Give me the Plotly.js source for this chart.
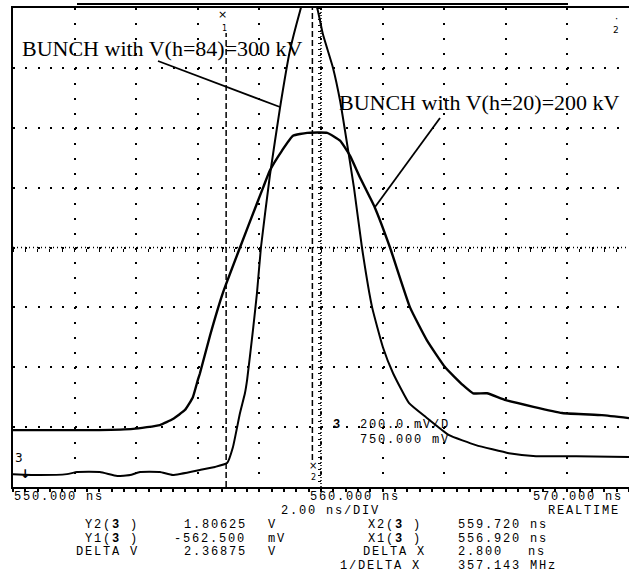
<!DOCTYPE html>
<html><head><meta charset="utf-8">
<script src="https://cdn.plot.ly/plotly-3.0.1.min.js"></script>
<style>
html,body{margin:0;padding:0;background:#fff}
#plot{width:629px;height:574px}
text.annotation-text[style*="Liberation Mono"]{letter-spacing:1.8px}
</style>
</head><body><div id="plot"></div>
<script>
// ---- data (time in ns, signal in V) ----
const timeA = [550.0, 550.88, 551.75, 552.08, 552.82, 553.38, 553.8, 554.12, 554.77, 555.19, 556.07, 556.56, 556.95, 557.14, 557.37, 557.53, 557.6, 557.79, 557.92, 558.05, 558.34, 558.67, 558.99, 559.32, 559.61, 559.9, 560.06, 560.39, 560.62, 560.78, 561.07, 561.33, 561.66, 562.01, 562.34, 562.86, 563.41, 564.16, 565.03, 566.1, 566.98, 568.28, 570.0];
const voltA = [-0.007, -0.01, -0.007, 0.0, 0.0, -0.013, -0.01, 0.0, 0.0, -0.01, 0.007, 0.017, 0.03, 0.083, 0.197, 0.263, 0.307, 0.473, 0.597, 0.75, 0.99, 1.217, 1.407, 1.54, 1.64, 1.54, 1.463, 1.35, 1.24, 1.14, 0.95, 0.75, 0.55, 0.417, 0.33, 0.23, 0.183, 0.123, 0.09, 0.063, 0.053, 0.053, 0.05];
const timeB = [550.0, 551.5, 552.8, 553.9, 554.77, 555.19, 555.58, 555.84, 556.0, 556.07, 556.4, 556.82, 557.37, 557.92, 558.12, 558.34, 558.73, 559.09, 559.55, 560.2, 560.62, 560.94, 561.27, 561.59, 561.75, 562.24, 562.89, 563.44, 564.03, 564.61, 564.94, 565.39, 566.0, 567.83, 569.12, 570.0];
const voltB = [0.14, 0.14, 0.14, 0.144, 0.157, 0.177, 0.207, 0.25, 0.307, 0.33, 0.457, 0.6, 0.75, 0.897, 0.95, 1.007, 1.073, 1.123, 1.133, 1.133, 1.107, 1.057, 0.983, 0.917, 0.883, 0.75, 0.55, 0.44, 0.35, 0.29, 0.263, 0.263, 0.24, 0.197, 0.19, 0.18];
const traceLabels = ['BUNCH with V(h=84)=300 kV', 'BUNCH with V(h=20)=200 kV'];
const timeRange = [550, 570];
const voltRange = [-0.05, 1.55];
const cursorX = [556.92, 559.72];
const xTickLabels = ['550.000 ns', '560.000 ns', '570.000 ns'];
const scaleLabels = ['2.00 ns/DIV', 'REALTIME'];
const chanLabels = ['200.0 mV/D', '750.000 mV'];
const readLeftNames = ['Y2(<b>3</b> )', 'Y1(<b>3</b> )', 'DELTA V'];
const readLeftVals = ['1.80625', '-562.500', '2.36875'];
const readLeftUnits = ['V', 'mV', 'V'];
const readRightNames = ['X2(<b>3</b> )', 'X1(<b>3</b> )', 'DELTA X', '1/DELTA X'];
const readRightVals = ['559.720 ns', '556.920 ns', '2.800', '357.143 MHz'];

// ---- layout helpers (pixel -> paper) ----
const L = 13, T = 8, W = 616, H = 479;
const px = x => (x - L) / W;
const py = y => (T + H - y) / H;
const MONO = {family: 'Liberation Mono', size: 12, color: '#000'};
const SERIF = {family: 'Liberation Serif, Times New Roman, serif', size: 22, color: '#000'};
const SMALL = s => ({family: 'DejaVu Sans', size: s, color: '#000'});
function txt(text, x, y, anchor, font) {
  return {text: text, x: px(x), y: py(y), xref: 'paper', yref: 'paper', xanchor: anchor || 'left',
    align: (anchor === 'center') ? 'center' : 'left',
    yanchor: 'middle', showarrow: false, font: font || MONO, borderpad: 0};
}

const tc = (timeRange[0] + timeRange[1]) / 2;
const vc = (voltRange[0] + voltRange[1]) / 2;

const traces = [
  {x: timeA, y: voltA, mode: 'lines', line: {color: '#000', width: 2, shape: 'spline', smoothing: 0.4},
   xaxis: 'x', yaxis: 'y', hoverinfo: 'skip', showlegend: false},
  {x: timeB, y: voltB, mode: 'lines', line: {color: '#000', width: 2.4, shape: 'spline', smoothing: 0.4},
   xaxis: 'x2', yaxis: 'y2', hoverinfo: 'skip', showlegend: false}
];

const annotations = [
  txt(traceLabels[0], 21, 49, 'left', SERIF),
  txt(traceLabels[1], 338, 102, 'left', SERIF),
  txt(xTickLabels[0], 13, 497, 'left'),
  txt(xTickLabels[1], 309, 497, 'left'),
  txt(xTickLabels[2], 532, 497, 'left'),
  txt(scaleLabels[0], 280, 511, 'left'),
  txt(scaleLabels[1], 547, 511, 'left'),
  txt('<b>3</b>', 332, 425, 'left'),
  txt(chanLabels[0], 359, 425, 'left'),
  txt(chanLabels[1], 359, 440, 'left'),
  txt('3', 14, 458, 'left', SMALL(12)),
  txt('<b>↓</b>', 19, 474, 'left', SMALL(12)),
  txt('×', 223, 15, 'center', SMALL(11)),
  txt('1', 224, 28, 'center', SMALL(8)),
  txt('×', 313, 465, 'center', SMALL(10)),
  txt('2', 313, 477, 'center', SMALL(8)),
  txt('·', 616, 18, 'center', SMALL(10)),
  txt('2', 616, 30, 'center', SMALL(9))
];
const rowY = [525, 538.5, 552, 565.5];
const leftNameX = [84, 84, 75];
const leftValX = [183, 173, 183];
const rightNameX = [367, 367, 362, 339];
for (let i = 0; i < 3; i++) {
  annotations.push(txt(readLeftNames[i], leftNameX[i], rowY[i], 'left'));
  annotations.push(txt(readLeftVals[i], leftValX[i], rowY[i], 'left'));
  annotations.push(txt(readLeftUnits[i], 267, rowY[i], 'left'));
}
for (let i = 0; i < 4; i++) {
  annotations.push(txt(readRightNames[i], rightNameX[i], rowY[i], 'left'));
  if (i === 2) {
    const parts = readRightVals[i].split(' ');
    annotations.push(txt(parts[0], 457, rowY[i], 'left'));
    annotations.push(txt('ns', 527, rowY[i], 'left'));
  } else {
    annotations.push(txt(readRightVals[i], 457, rowY[i], 'left'));
  }
}

const shapes = [
  // center cross (dense dotted)
  {type: 'line', xref: 'x', yref: 'y domain', x0: tc, x1: tc, y0: 0, y1: 1, line: {color: '#000', width: 1.5, dash: '1px,2px'}},
  {type: 'line', xref: 'x domain', yref: 'y', x0: 0, x1: 1, y0: vc, y1: vc, line: {color: '#000', width: 1.5, dash: '1px,3px'}},
  // time cursors
  {type: 'line', xref: 'x', yref: 'y domain', x0: cursorX[0], x1: cursorX[0], y0: 0, y1: py(33), line: {color: '#000', width: 1.5, dash: '6px,3px'}},
  {type: 'line', xref: 'x', yref: 'y domain', x0: cursorX[1], x1: cursorX[1], y0: py(460), y1: 1, line: {color: '#000', width: 1.5, dash: '6px,3px'}},
  // label leader lines
  {type: 'line', xref: 'paper', yref: 'paper', x0: px(158), y0: py(61), x1: px(280), y1: py(107), line: {color: '#000', width: 1.8}},
  {type: 'line', xref: 'paper', yref: 'paper', x0: px(440), y0: py(118), x1: px(375), y1: py(207), line: {color: '#000', width: 1.8}},
  // rule above the screen
  {type: 'line', xref: 'paper', yref: 'paper', x0: px(77), y0: py(4), x1: px(568), y1: py(4), line: {color: '#000', width: 2}}
];

const gridX = {range: timeRange, tick0: 550, dtick: 2, showgrid: true, gridcolor: '#000', gridwidth: 2,
  griddash: '2px,12.97px', zeroline: false, showticklabels: false, showline: true, linecolor: '#000',
  linewidth: 2, mirror: true, ticks: 'outside', ticklen: 3, tickcolor: '#000', tickwidth: 2,
  minor: {dtick: 0.4, ticks: 'outside', ticklen: 3, tickcolor: '#000', tickwidth: 2, showgrid: false},
  fixedrange: true};
const gridY = {range: voltRange, tick0: -0.05, dtick: 0.2, showgrid: true, gridcolor: '#000', gridwidth: 2,
  griddash: '2px,10.32px', zeroline: false, showticklabels: false, showline: true, linecolor: '#000',
  linewidth: 2, mirror: false, ticks: '', fixedrange: true};

const layout = {
  width: 629, height: 574,
  margin: {l: L, r: 0, t: T, b: 574 - T - H, pad: 0},
  paper_bgcolor: '#fff', plot_bgcolor: '#fff',
  showlegend: false,
  xaxis: gridX,
  yaxis: gridY,
  xaxis2: {range: timeRange, overlaying: 'x', anchor: 'free', position: 0.5, showgrid: false, zeroline: false,
    showticklabels: false, showline: false, ticks: 'outside', ticklen: 3, tickwidth: 1, tickcolor: '#000',
    tick0: 550, dtick: 0.4, fixedrange: true},
  yaxis2: {range: voltRange, overlaying: 'y', anchor: 'free', position: 0.5, showgrid: false, zeroline: false,
    showticklabels: false, showline: false, ticks: 'outside', ticklen: 3, tickwidth: 1, tickcolor: '#000',
    tick0: -0.05, dtick: 0.02, fixedrange: true},
  shapes: shapes,
  annotations: annotations
};

Plotly.newPlot('plot', traces, layout, {displayModeBar: false, staticPlot: true});
</script></body></html>
